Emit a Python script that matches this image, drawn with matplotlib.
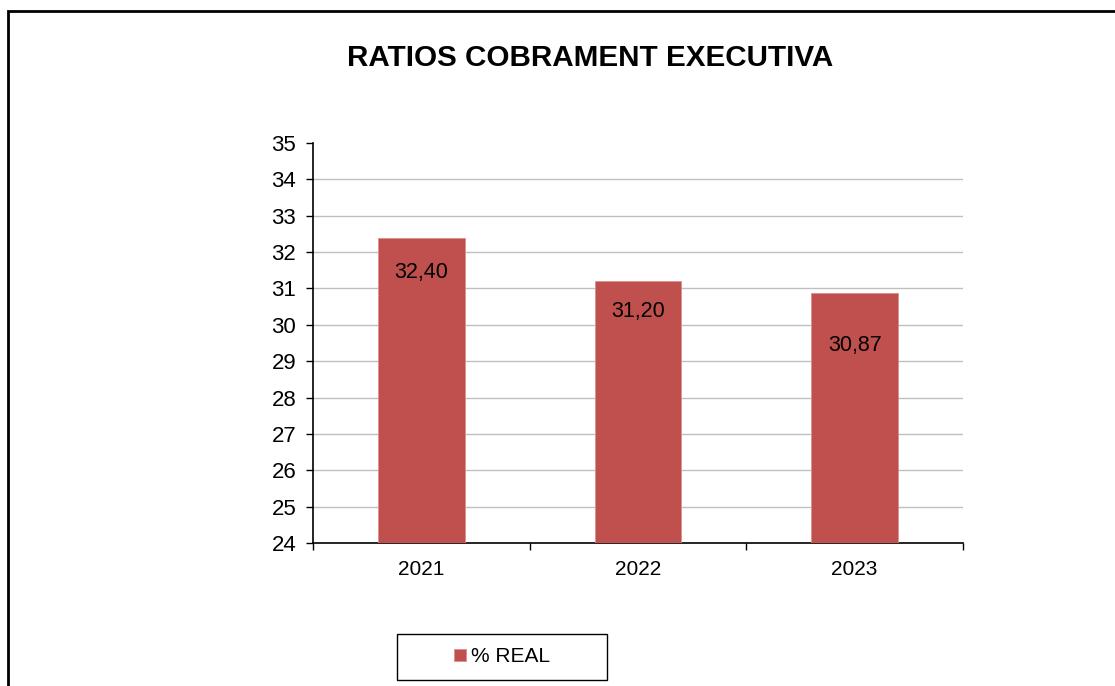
import numpy as np
import matplotlib.pyplot as plt
from matplotlib.patches import Rectangle

plt.rcParams['font.family'] = ['Liberation Sans', 'DejaVu Sans']

# data
years = ['2021', '2022', '2023']
real_pct = [32.40, 31.20, 30.87]
label_txt = ['32,40', '31,20', '30,87']
# where excel dropped each data label (points below bar top)
label_drop = [25, 22, 38]

bar_color = '#C0504D'

fig = plt.figure(figsize=(11.15, 6.86), dpi=100)
ax = fig.add_axes([0.2807, 0.2085, 0.583, 0.583])

ind = np.arange(len(years))
bars = ax.bar(ind, np.array(real_pct) - 24, 0.4, bottom=24, color=bar_color,
              edgecolor='#d9908e', linewidth=0.6, zorder=3, label='% REAL')

for i, v in enumerate(real_pct):
    ax.annotate(label_txt[i], (ind[i], v), xytext=(0, -label_drop[i]),
                textcoords='offset points', ha='center', va='center',
                fontsize=15.5, color='black', zorder=4)

ax.set_xlim(-0.5, 2.5)
ax.set_ylim(24, 35)
ax.set_yticks(np.arange(24, 36, 1))
ax.set_xticks([-0.5, 0.5, 1.5, 2.5])
ax.set_xticklabels([])
ax.set_xticks(ind, minor=True)
ax.set_xticklabels(years, minor=True)
ax.tick_params(axis='x', which='minor', length=0, pad=12, labelsize=15)
ax.tick_params(axis='x', which='major', length=5, width=1, direction='out')
ax.tick_params(axis='y', length=5, width=1, direction='out', labelsize=16, pad=7)

for y in range(25, 35):
    ax.axhline(y, color='#bfbfbf', linewidth=1, zorder=1)

ax.spines['top'].set_visible(False)
ax.spines['right'].set_visible(False)
ax.spines['left'].set_linewidth(1.2)
ax.spines['bottom'].set_linewidth(1.2)

fig.text(0.529, 0.915, 'RATIOS COBRAMENT EXECUTIVA', ha='center', va='center',
         fontsize=21.3, fontweight='bold')

# legend: excel style box drawn separately
fig.patches.append(Rectangle((397 / 1115, 1 - 680 / 686), 210 / 1115, 46 / 686,
                             transform=fig.transFigure, fill=False,
                             edgecolor='black', linewidth=1, zorder=5))
leg = fig.legend(handles=[bars], labels=['% REAL'], loc='center',
                 bbox_to_anchor=(0.4505, 0.0425), fontsize=15, frameon=False,
                 handlelength=0.55, handleheight=0.55, handletextpad=0.25,
                 borderpad=0, borderaxespad=0)

# outer chart border
fig.patches.append(Rectangle((8 / 1115, -0.1), 1.2, 1 - 11 / 686 + 0.1,
                             transform=fig.transFigure, fill=False,
                             edgecolor='black', linewidth=2, zorder=10))

plt.savefig('out.png', dpi=100)
